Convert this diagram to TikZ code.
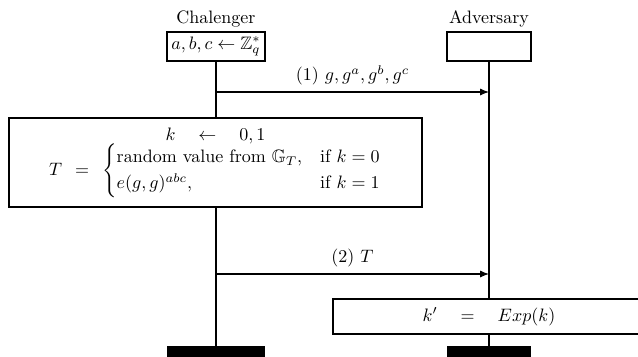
\documentclass[tikz,border=0pt]{standalone}
\usepackage{amsmath,amssymb}
\usetikzlibrary{arrows.meta,backgrounds}
\begin{document}
\begin{tikzpicture}[x=0.5556pt,y=-0.5556pt,
  actorbox/.style={draw,line width=0.7pt,fill=white,inner sep=0pt,minimum height=16.1pt},
  procbox/.style={draw,line width=0.7pt,fill=white,inner sep=0pt,align=center},
  endbar/.style={fill=black,inner sep=0pt,minimum height=8pt},
  lifeline/.style={line width=0.9pt},
  msg/.style={line width=0.6pt,-{Latex[length=5pt,width=4pt]}}]
\useasboundingbox (0,0) rectangle (638,356);
% actors
\node[actorbox,minimum width=54.4pt] (chbox) at (216,46.5) {$a,b,c\leftarrow\mathbb{Z}_q^*$};
\node[anchor=south,inner sep=2pt] (chname) at (chbox.north) {Chalenger};
\node[actorbox,minimum width=46.7pt] (advbox) at (489,46.5) {};
\node[anchor=south,inner sep=2pt] (advname) at (advbox.north) {Adversary};
% process boxes
\node[procbox,minimum width=229.5pt,minimum height=49.4pt] (gen) at (215.5,162.5)
  {$k\quad\leftarrow\quad 0,1$\\[-1pt]
   $T\;\,=\;\,\begin{cases}\text{random value from }\mathbb{G}_T, & \text{if }k=0\\ e(g,g)^{abc}, & \text{if }k=1\end{cases}$};
\node[procbox,minimum width=173.3pt,minimum height=19.4pt] (guess) at (489,316.5)
  {$k'\quad=\quad Exp(k)$};
% end bars
\node[endbar,minimum width=54.4pt,anchor=north] (chbar) at (216,346) {};
\node[endbar,minimum width=46.7pt,anchor=north] (advbar) at (489,346) {};
% lifelines
\begin{scope}[on background layer]
\draw[lifeline] (chbox.south) -- (chbar.north);
\draw[lifeline] (advbox.south) -- (advbar.north);
\end{scope}
% messages
\coordinate (m1s) at (216,92);
\coordinate (m1e) at (489,92);
\draw[msg] (m1s) -- node[above] (m1l) {(1) $g,g^a,g^b,g^c$} (m1e);
\coordinate (m2s) at (216,274);
\coordinate (m2e) at (489,274);
\draw[msg] (m2s) -- node[above] (m2l) {(2) $T$} (m2e);
\end{tikzpicture}
\end{document}
